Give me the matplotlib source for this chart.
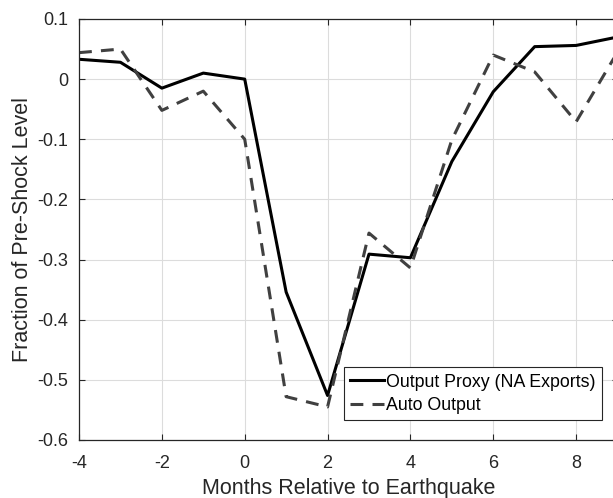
import matplotlib
matplotlib.use("Agg")
import matplotlib.pyplot as plt

# Months relative to earthquake and the two series
months = [-4, -3, -2, -1, 0, 1, 2, 3, 4, 5, 6, 7, 8, 9]
output_proxy = [0.033, 0.028, -0.015, 0.01, 0.0, -0.354, -0.526, -0.291, -0.297,
                -0.137, -0.021, 0.054, 0.056, 0.07]
auto_output = [0.044, 0.05, -0.052, -0.02, -0.1, -0.528, -0.545, -0.256, -0.314,
               -0.101, 0.04, 0.012, -0.071, 0.045]

xticks = [-4, -2, 0, 2, 4, 6, 8]
yticks = [-0.6, -0.5, -0.4, -0.3, -0.2, -0.1, 0, 0.1]
ytick_labels = ['-0.6', '-0.5', '-0.4', '-0.3', '-0.2', '-0.1', '0', '0.1']

plt.rcParams['font.family'] = ['Liberation Sans', 'DejaVu Sans']
plt.rcParams['axes.unicode_minus'] = False

fig = plt.figure(figsize=(6.13, 4.98), dpi=100)
# axes run slightly past the right edge, like the cropped original
ax = fig.add_axes([0.1289, 0.1165, 0.8785, 0.8454])

ax.plot(months, output_proxy, color='black', lw=2.2, label='Output Proxy (NA Exports)')
ax.plot(months, auto_output, color='#404040', lw=2.2, ls=(0, (4.2, 3.0)), label='Auto Output')

ax.set_xlim(-4, 9)
ax.set_ylim(-0.6, 0.1)
ax.set_xticks(xticks)
ax.set_yticks(yticks)
ax.set_yticklabels(ytick_labels)
ax.tick_params(direction='in', length=4, width=0.8, labelsize=13, colors='#262626',
               top=True, right=True)
ax.tick_params(axis='x', pad=11)
ax.tick_params(axis='y', pad=8)
ax.grid(True, color='#dcdcdc', lw=0.8)
ax.set_axisbelow(True)
for s in ax.spines.values():
    s.set_color('#262626')
    s.set_linewidth(0.9)

ax.set_xlabel('Months Relative to Earthquake', fontsize=15.5, color='#262626', labelpad=4)
ax.set_ylabel('Fraction of Pre-Shock Level', fontsize=15.5, color='#262626', labelpad=2.5)

leg = ax.legend(loc='lower right', bbox_to_anchor=(0.971, 0.0475), fontsize=12.8,
                fancybox=False, framealpha=1, edgecolor='#262626', handlelength=1.95,
                handletextpad=0.1, borderpad=0.35, labelspacing=0.35, borderaxespad=0)
leg.get_frame().set_linewidth(0.8)

fig.savefig('out.png', dpi=100)
